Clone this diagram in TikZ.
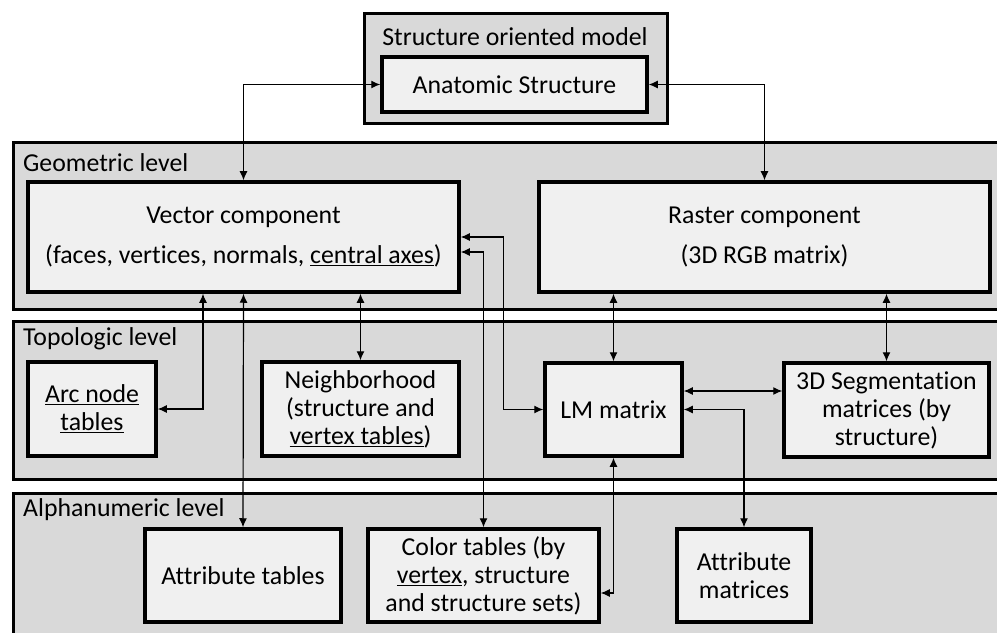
\documentclass[tikz,border=0pt]{standalone}
\usepackage{fontspec}
\setmainfont{Carlito}[Ligatures={NoCommon}]
\usetikzlibrary{arrows.meta,calc}
\definecolor{panelfill}{HTML}{D9D9D9}
\definecolor{boxfill}{HTML}{F0F0F0}
\newcommand{\ulx}[1]{\underline{#1}}
\tikzset{
  panel/.style={draw, line width=3bp, fill=panelfill, anchor=north west, inner sep=0pt},
  bx/.style={draw, line width=3.5bp, fill=boxfill, align=center, inner sep=0pt,
    font=\fontsize{25.8bp}{28bp}\selectfont},
  wide/.style={font=\fontsize{25.8bp}{40bp}\selectfont},
  lbl/.style={font=\fontsize{25.8bp}{28bp}\selectfont, inner sep=0pt},
  conn/.style={line width=1.2bp, {Latex[length=9bp,width=8bp]}-{Latex[length=9bp,width=8bp]}}
}
\begin{document}
\begin{tikzpicture}[x=1bp,y=-1bp]
\clip (0,0) rectangle (997,633);
\fill[white] (0,0) rectangle (997,633);
% panels
\node[panel, minimum width=303bp, minimum height=110bp] (toppanel) at (363,12) {};
\node[panel, minimum width=1000bp, minimum height=167bp] (geo) at (12,141) {};
\node[panel, minimum width=1000bp, minimum height=158bp] (topo) at (12,320) {};
\node[panel, minimum width=1000bp, minimum height=160bp] (alpha) at (12,492) {};
% panel labels
\node[lbl] (toplbl) at (515,37) {Structure oriented model};
\node[lbl, anchor=west] (geolbl) at (23,163) {Geometric level};
\node[lbl, anchor=west] (topolbl) at (23,339) {Topologic level};
\node[lbl, anchor=west] (alphalbl) at (23,510) {Alphanumeric level};
% boxes
\node[bx, minimum width=265bp, minimum height=55bp] (anat) at (514.5,84.5) {Anatomic Structure};
\node[bx, wide, minimum width=431bp, minimum height=110bp] (vec) at (243.5,237)
  {Vector component\\(faces, vertices, normals, \ulx{central axes})};
\node[bx, wide, minimum width=451bp, minimum height=110bp] (ras) at (764.5,237)
  {Raster component\\(3D RGB matrix)};
\node[bx, minimum width=128bp, minimum height=94bp] (arc) at (92,409)
  {\ulx{Arc node}\\\ulx{tables}};
\node[bx, minimum width=197bp, minimum height=94bp] (nb) at (360.5,409)
  {Neighborhood\\(structure and\\\ulx{vertex tables})};
\node[bx, minimum width=137bp, minimum height=93bp] (lm) at (613.5,409.5) {LM matrix};
\node[bx, minimum width=205bp, minimum height=94bp] (seg) at (886.5,410)
  {3D Segmentation\\matrices (by\\structure)};
\node[bx, minimum width=196bp, minimum height=93bp] (attrt) at (243,575.5) {Attribute tables};
\node[bx, minimum width=231bp, minimum height=93bp] (color) at (483.5,575.5)
  {Color tables (by\\\ulx{vertex}, structure\\and structure sets)};
\node[bx, minimum width=134bp, minimum height=93bp] (attrm) at (744,575.5)
  {Attribute\\matrices};
% connectors
\coordinate (va) at ([xshift=-40.5bp]vec.south);
\coordinate (vl) at ([yshift=-15bp]vec.east);
\coordinate (lmr) at ([yshift=18.5bp]lm.east);
\coordinate (cr) at ([yshift=-17.5bp]color.east);
\coordinate (vjog) at ($(vec.east)+(43,0)$);
\draw[conn] (anat.west) -| (vec.north);
\draw[conn] (anat.east) -| (ras.north);
\draw[conn] (va) |- (arc.east);
\draw[conn] (vec.south) -- (attrt.north);
\draw[conn] (vec.south -| nb.north) -- (nb.north);
\draw[conn] (vec.east) -- (vjog) |- (lm.west);
\draw[conn] (vl) -| (color.north);
\draw[conn] (ras.south -| lm.north) -- (lm.north);
\draw[conn] (ras.south -| seg.north) -- (seg.north);
\draw[conn] (lmr) -- (lmr -| seg.west);
\draw[conn] (lm.east) -| (attrm.north);
\draw[conn] (lm.south) |- (cr);
\end{tikzpicture}
\end{document}
